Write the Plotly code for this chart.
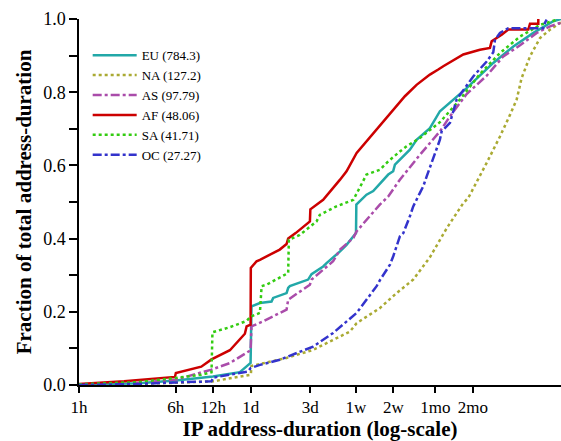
import plotly.graph_objects as go

# IP address-duration CDFs per continent (x in hours, y = cumulative fraction)
eu_hours = [1, 3, 6, 11.9, 19.6, 22.2, 23.9, 24.3, 28.4, 35.2, 36.3, 46.5, 47.9, 49.4, 69.3, 73.8,
            91.5, 97.4, 117, 125, 141, 165, 168, 169, 204, 231, 305, 334, 345, 455, 515, 659, 793,
            1300, 2128, 3083, 4464, 6460, 7450]
eu_frac = [0.0, 0.005, 0.012, 0.023, 0.035, 0.051, 0.06, 0.215, 0.224, 0.228, 0.238, 0.251, 0.265, 0.27,
           0.288, 0.303, 0.324, 0.333, 0.356, 0.365, 0.383, 0.41, 0.415, 0.493, 0.52, 0.53, 0.575, 0.584,
           0.602, 0.643, 0.67, 0.702, 0.748, 0.811, 0.88, 0.925, 0.962, 0.994, 1.0]

na_hours = [1, 3, 6, 11.9, 24.0, 24.3, 46.5, 76, 117, 150, 170, 261, 356, 484, 659, 898, 1222, 1340,
            1884, 2408, 2899, 3281, 3597, 4198, 5050, 6076, 7310, 7450]
na_frac = [0.0, 0.003, 0.006, 0.01, 0.028, 0.052, 0.074, 0.096, 0.128, 0.146, 0.169, 0.21, 0.251, 0.288,
           0.349, 0.428, 0.497, 0.511, 0.607, 0.679, 0.738, 0.78, 0.839, 0.898, 0.948, 0.971, 0.989, 0.99]

as_hours = [1, 3, 6, 9.64, 11.6, 16.3, 19.6, 23.9, 24.3, 30.1, 46.5, 47.9, 71.6, 73.8, 110, 125, 160,
            170, 261, 305, 378, 548, 793, 955, 1300, 1884, 2561, 3491, 4750, 6076, 7310, 7450]
as_frac = [0.001, 0.006, 0.015, 0.033, 0.042, 0.06, 0.078, 0.095, 0.16, 0.174, 0.206, 0.233, 0.274, 0.288,
           0.338, 0.37, 0.402, 0.42, 0.493, 0.515, 0.561, 0.629, 0.693, 0.734, 0.795, 0.845, 0.898, 0.928,
           0.962, 0.98, 0.989, 0.99]

af_hours = [1, 2.3, 5.9, 6.0, 9.6, 11.6, 16.3, 20.2, 21.5, 22.2, 23.9, 24.0, 26.7, 28.4, 41.0, 46.5, 47.9,
            55, 69.3, 71.6, 72.2, 86, 91.5, 125, 141, 170, 217, 305, 334, 415, 515, 659, 769, 844, 1222,
            1663, 2001, 2065, 2485, 2809, 4067, 4198, 4893, 4893]
af_frac = [0.003, 0.01, 0.022, 0.033, 0.05, 0.07, 0.095, 0.128, 0.14, 0.16, 0.165, 0.32, 0.338, 0.342,
           0.37, 0.385, 0.4, 0.415, 0.443, 0.447, 0.48, 0.5, 0.506, 0.561, 0.584, 0.634, 0.677, 0.734,
           0.752, 0.789, 0.82, 0.848, 0.862, 0.871, 0.903, 0.916, 0.921, 0.939, 0.957, 0.971, 0.971,
           0.987, 0.987, 1.0]

sa_hours = [1, 3, 5.88, 9.64, 11.6, 11.8, 16.3, 22.2, 24, 28.4, 29.3, 32.1, 47.9, 48.5, 59.4, 67.3, 81,
            86, 117, 160, 165, 192, 204, 261, 305, 378, 428, 548, 793, 1148, 1663, 2408, 3491, 5050, 6880]
sa_frac = [0.002, 0.008, 0.019, 0.028, 0.035, 0.144, 0.158, 0.175, 0.187, 0.197, 0.27, 0.274, 0.306,
           0.397, 0.41, 0.424, 0.447, 0.465, 0.488, 0.506, 0.515, 0.561, 0.575, 0.588, 0.611, 0.638, 0.652,
           0.675, 0.718, 0.78, 0.85, 0.907, 0.952, 0.984, 0.998]

oc_hours = [1, 3, 6, 11.6, 11.9, 22.8, 23.9, 28.4, 41, 76, 110, 170, 246, 261, 315, 334, 378, 403, 455,
            484, 548, 583, 621, 701, 793, 819, 955, 1081, 1469, 1884, 2128, 2196, 2408, 2809, 5370, 5542,
            5715]
oc_frac = [0.0, 0.003, 0.007, 0.01, 0.02, 0.037, 0.046, 0.055, 0.069, 0.105, 0.142, 0.197, 0.27, 0.286,
           0.329, 0.351, 0.406, 0.415, 0.461, 0.488, 0.525, 0.543, 0.57, 0.62, 0.67, 0.693, 0.716, 0.78,
           0.843, 0.884, 0.909, 0.943, 0.962, 0.975, 0.975, 0.99, 0.998]

tick_hours = [1, 6, 12, 24, 72, 168, 336, 730, 1460]
tick_labels = ["1h", "6h", "12h", "1d", "3d", "1w", "2w", "1mo", "2mo"]

y_ticks = [i / 10 for i in range(11)]
y_labels = [f"{v:.1f}" if i % 2 == 0 else "" for i, v in enumerate(y_ticks)]

series = [
    ("EU (784.3)", eu_hours, eu_frac, "#22A8A8", "solid"),
    ("NA (127.2)", na_hours, na_frac, "#AAAA33", "dot"),
    ("AS (97.79)", as_hours, as_frac, "#AA4CAA", "dashdot"),
    ("AF (48.06)", af_hours, af_frac, "#CC0000", "solid"),
    ("SA (41.71)", sa_hours, sa_frac, "#33CC11", "dot"),
    ("OC (27.27)", oc_hours, oc_frac, "#3333CC", "dashdot"),
]

fig = go.Figure()
for name, xs, ys, color, dash in series:
    fig.add_trace(go.Scatter(
        x=xs, y=ys, mode="lines", name=name,
        line=dict(color=color, width=2.5, dash=dash),
    ))

serif = "Liberation Serif, Times New Roman, serif"
fig.update_layout(
    width=561, height=441,
    margin=dict(l=79, r=0, t=19, b=56),
    plot_bgcolor="white", paper_bgcolor="white",
    font=dict(family=serif, color="black", size=17),
    showlegend=True,
    legend=dict(x=0.018, y=0.942, xanchor="left", yanchor="top",
                font=dict(family=serif, size=13, color="black"),
                bgcolor="rgba(255,255,255,0)", borderwidth=0,
                itemwidth=44, tracegroupgap=0),
)
fig.update_xaxes(
    type="log", range=[0, 3.872],
    tickvals=tick_hours, ticktext=tick_labels,
    showgrid=False, zeroline=False,
    showline=True, linecolor="black", linewidth=1.5,
    ticks="outside", ticklen=6, tickwidth=1.5, tickcolor="black",
    tickfont=dict(family=serif, size=17),
    title=dict(text="<b>IP address-duration (log-scale)</b>",
               font=dict(family=serif, size=21), standoff=8),
)
fig.update_yaxes(
    range=[0, 1],
    tickvals=y_ticks, ticktext=y_labels,
    showgrid=False, zeroline=False,
    showline=True, linecolor="black", linewidth=1.5,
    ticks="outside", ticklen=8, tickwidth=1.5, tickcolor="black",
    tickfont=dict(family=serif, size=18),
    title=dict(text="<b>Fraction of total address-duration</b>",
               font=dict(family=serif, size=21), standoff=6),
)

fig.write_html("out.html")
